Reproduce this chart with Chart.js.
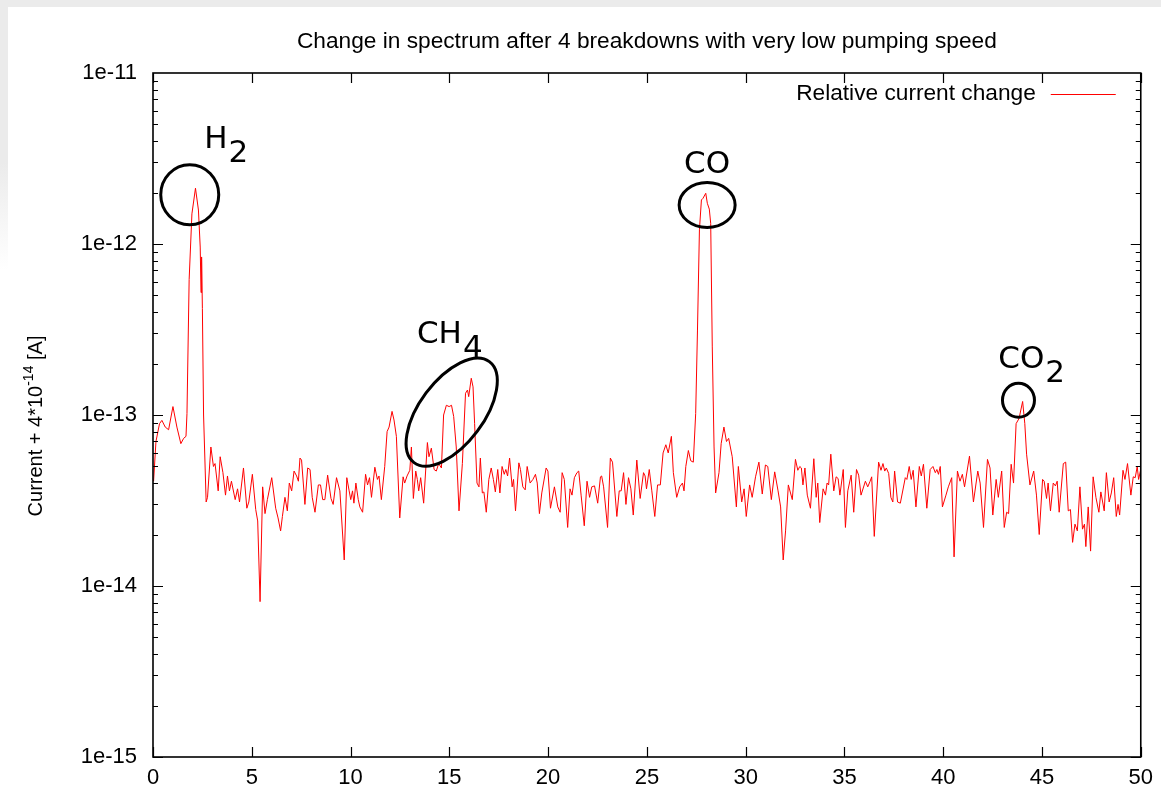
<!DOCTYPE html>
<html lang="en">
<head>
    <meta charset="UTF-8">
    <title>Change in spectrum after 4 breakdowns</title>
    <script src="https://cdn.jsdelivr.net/npm/chart.js"></script>
    <style>
        html, body {
            margin: 0;
            padding: 0;
            background: #fff;
        }
        body {
            width: 1161px;
            height: 793px;
            position: relative;
            overflow: hidden;
        }
        .frame-top {
            position: absolute; left: 0; top: 0;
            width: 100%; height: 7px;
            background: #ebebeb;
        }
        .frame-left {
            position: absolute; left: 0; top: 0;
            width: 8px; height: 270px;
            background: linear-gradient(#ebebeb 60%, #fff);
        }
        canvas {
            position: absolute; left: 0; top: 0;
        }
    </style>
</head>
<body>
    <div class="frame-top"></div>
    <div class="frame-left"></div>
    <canvas id="spectrumChart" width="1161" height="793"></canvas>

    <script>
        // mass number (amu) and relative current change [A]
        const massNumbers = [
            0.03, 0.15, 0.33, 0.45, 0.62, 0.79, 1.01, 1.21, 1.41, 1.55, 1.67, 1.72, 1.83, 1.97, 2.15, 2.30, 2.39, 2.43, 2.46, 2.50,
            2.56, 2.69, 2.76, 2.93, 3.06, 3.14, 3.30, 3.40, 3.54, 3.67, 3.77, 3.87, 3.97, 4.16, 4.28, 4.38, 4.58, 4.75, 4.85, 5.03,
            5.20, 5.30, 5.42, 5.55, 5.67, 5.79, 6.01, 6.21, 6.33, 6.46, 6.55, 6.68, 6.80, 6.90, 7.02, 7.14, 7.27, 7.36, 7.44, 7.52,
            7.69, 7.83, 7.95, 8.06, 8.20, 8.37, 8.48, 8.59, 8.70, 8.84, 9.01, 9.12, 9.29, 9.46, 9.68, 9.81, 9.93, 10.01, 10.10, 10.17,
            10.27, 10.39, 10.47, 10.61, 10.76, 10.86, 10.96, 11.06, 11.23, 11.36, 11.44, 11.56, 11.73, 11.85, 11.95, 12.10, 12.20, 12.32, 12.49, 12.66,
            12.74, 12.86, 13.00, 13.08, 13.18, 13.30, 13.38, 13.45, 13.55, 13.70, 13.89, 13.97, 14.09, 14.23, 14.34, 14.46, 14.60, 14.71, 14.85, 14.99,
            15.11, 15.22, 15.35, 15.49, 15.66, 15.82, 15.92, 15.98, 16.11, 16.20, 16.28, 16.40, 16.50, 16.57, 16.67, 16.75, 16.87, 17.00, 17.12, 17.23,
            17.33, 17.45, 17.56, 17.67, 17.78, 17.86, 17.95, 18.05, 18.18, 18.25, 18.35, 18.52, 18.60, 18.72, 18.84, 18.94, 19.09, 19.23, 19.36, 19.45,
            19.56, 19.68, 19.90, 19.99, 20.12, 20.32, 20.49, 20.61, 20.71, 20.82, 20.99, 21.11, 21.21, 21.33, 21.46, 21.55, 21.67, 21.83, 21.97, 22.10,
            22.21, 22.35, 22.51, 22.65, 22.71, 22.81, 23.01, 23.15, 23.26, 23.48, 23.60, 23.70, 23.82, 23.94, 24.07, 24.19, 24.31, 24.49, 24.66, 24.83,
            24.91, 24.98, 25.12, 25.25, 25.40, 25.54, 25.68, 25.82, 25.96, 26.08, 26.24, 26.34, 26.51, 26.66, 26.80, 26.88, 26.97, 27.10, 27.22, 27.35,
            27.47, 27.56, 27.66, 27.76, 27.84, 27.98, 28.06, 28.16, 28.23, 28.31, 28.40, 28.48, 28.65, 28.76, 28.90, 29.03, 29.14, 29.32, 29.53, 29.63,
            29.80, 29.92, 30.03, 30.20, 30.33, 30.50, 30.67, 30.84, 31.00, 31.12, 31.30, 31.47, 31.64, 31.77, 31.90, 32.02, 32.16, 32.36, 32.52, 32.64,
            32.74, 32.82, 32.90, 33.00, 33.12, 33.28, 33.45, 33.57, 33.65, 33.75, 33.92, 34.04, 34.12, 34.20, 34.31, 34.46, 34.58, 34.68, 34.77, 34.94,
            35.05, 35.17, 35.34, 35.47, 35.61, 35.72, 35.84, 36.06, 36.18, 36.30, 36.38, 36.51, 36.73, 36.85, 36.95, 37.04, 37.12, 37.24, 37.35, 37.45,
            37.54, 37.69, 37.83, 38.08, 38.16, 38.28, 38.38, 38.48, 38.62, 38.79, 38.89, 39.00, 39.17, 39.34, 39.48, 39.60, 39.68, 39.76, 39.85, 39.96,
            40.14, 40.26, 40.43, 40.55, 40.72, 40.85, 40.97, 41.08, 41.33, 41.53, 41.75, 41.87, 42.04, 42.24, 42.37, 42.51, 42.68, 42.79, 42.96, 43.09,
            43.21, 43.31, 43.44, 43.56, 43.69, 43.84, 44.02, 44.13, 44.22, 44.39, 44.58, 44.72, 44.86, 45.03, 45.11, 45.23, 45.31, 45.43, 45.57, 45.68,
            45.77, 45.87, 46.08, 46.20, 46.33, 46.44, 46.55, 46.67, 46.79, 46.92, 47.05, 47.15, 47.22, 47.34, 47.46, 47.59, 47.73, 47.88, 47.98, 48.15,
            48.26, 48.40, 48.51, 48.63, 48.76, 48.85, 48.93, 49.10, 49.20, 49.33, 49.50, 49.62, 49.72, 49.82, 49.89, 50.00
        ];

        const currentChange = [
            4.1e-14, 7.0e-14, 8.9e-14, 9.3e-14, 8.5e-14, 8.2e-14, 1.12e-13, 8.5e-14, 6.8e-14, 7.3e-14, 7.5e-14, 1.02e-13, 6.2e-13, 1.5e-12, 2.12e-12, 1.58e-12, 9.6e-13, 5.2e-13, 8.4e-13, 4.2e-13,
            1.0e-13, 3.1e-14, 3.3e-14, 6.5e-14, 5.0e-14, 5.2e-14, 3.6e-14, 5.7e-14, 4.6e-14, 3.4e-14, 4.4e-14, 3.6e-14, 4.1e-14, 3.2e-14, 3.7e-14, 3.1e-14, 4.9e-14, 2.85e-14, 3.1e-14, 4.5e-14,
            2.8e-14, 2.4e-14, 8.1e-15, 3.8e-14, 2.65e-14, 3.2e-14, 4.3e-14, 2.85e-14, 2.5e-14, 2.1e-14, 2.55e-14, 3.3e-14, 2.75e-14, 4.0e-14, 3.6e-14, 4.7e-14, 4.4e-14, 4.1e-14, 5.6e-14, 5.45e-14,
            3.0e-14, 4.9e-14, 4.8e-14, 3.3e-14, 2.7e-14, 3.9e-14, 3.9e-14, 3.2e-14, 3.2e-14, 4.45e-14, 3.25e-14, 3.0e-14, 4.3e-14, 3.6e-14, 1.42e-14, 4.3e-14, 3.6e-14, 3.2e-14, 3.6e-14, 3.05e-14,
            4.0e-14, 3.2e-14, 2.9e-14, 2.7e-14, 4.5e-14, 3.9e-14, 4.3e-14, 3.3e-14, 4.95e-14, 4.2e-14, 4.4e-14, 3.2e-14, 5.0e-14, 8.0e-14, 8.5e-14, 1.05e-13, 9.35e-14, 7.5e-14, 2.5e-14, 4.35e-14,
            4.0e-14, 4.4e-14, 4.75e-14, 6.5e-14, 3.25e-14, 4.7e-14, 4.2e-14, 3.6e-14, 4.3e-14, 3.05e-14, 6.9e-14, 5.7e-14, 6.4e-14, 4.8e-14, 4.7e-14, 5.2e-14, 4.9e-14, 1.0e-13, 1.14e-13, 1.12e-13,
            1.14e-13, 9.8e-14, 6.5e-14, 2.75e-14, 5.2e-14, 1.34e-13, 1.40e-13, 1.28e-13, 1.64e-13, 1.46e-13, 8.9e-14, 4.0e-14, 3.8e-14, 5.6e-14, 3.5e-14, 3.55e-14, 2.7e-14, 4.2e-14, 4.9e-14, 4.2e-14,
            3.55e-14, 4.8e-14, 3.5e-14, 5.0e-14, 4.5e-14, 4.8e-14, 4.4e-14, 5.6e-14, 3.8e-14, 4.2e-14, 2.75e-14, 5.25e-14, 4.8e-14, 3.8e-14, 3.65e-14, 5.0e-14, 4.0e-14, 4.2e-14, 4.5e-14, 4.0e-14,
            2.65e-14, 3.5e-14, 4.9e-14, 4.7e-14, 2.85e-14, 3.8e-14, 2.9e-14, 2.7e-14, 4.6e-14, 4.2e-14, 2.2e-14, 3.7e-14, 3.4e-14, 4.3e-14, 4.6e-14, 4.7e-14, 3.4e-14, 2.25e-14, 4.1e-14, 3.3e-14,
            3.8e-14, 3.85e-14, 3.05e-14, 4.35e-14, 4.4e-14, 3.8e-14, 2.2e-14, 5.6e-14, 5.3e-14, 2.55e-14, 3.6e-14, 3.6e-14, 4.6e-14, 3.0e-14, 4.3e-14, 3.7e-14, 2.6e-14, 5.45e-14, 3.25e-14, 4.6e-14,
            4.4e-14, 3.7e-14, 4.8e-14, 3.6e-14, 2.55e-14, 3.9e-14, 3.9e-14, 6.0e-14, 6.7e-14, 6.0e-14, 7.5e-14, 4.6e-14, 3.3e-14, 3.8e-14, 4.0e-14, 3.6e-14, 5.0e-14, 6.2e-14, 5.4e-14, 5.3e-14,
            1.02e-13, 3.1e-13, 1.21e-12, 1.81e-12, 1.85e-12, 1.98e-12, 1.73e-12, 1.6e-12, 1.32e-12, 2.5e-13, 6.5e-14, 3.5e-14, 4.6e-14, 6.8e-14, 8.5e-14, 7.0e-14, 7.3e-14, 5.7e-14, 2.9e-14, 5.0e-14,
            3.1e-14, 3.7e-14, 2.55e-14, 3.9e-14, 3.3e-14, 4.35e-14, 5.3e-14, 3.45e-14, 5.1e-14, 5.0e-14, 3.2e-14, 4.65e-14, 3.6e-14, 2.9e-14, 1.42e-14, 2.1e-14, 3.9e-14, 3.2e-14, 5.5e-14, 4.75e-14,
            5.0e-14, 4.9e-14, 3.9e-14, 4.9e-14, 3.4e-14, 2.85e-14, 5.55e-14, 3.3e-14, 4.0e-14, 2.35e-14, 3.7e-14, 3.4e-14, 4.0e-14, 3.9e-14, 5.9e-14, 3.6e-14, 4.35e-14, 4.25e-14, 3.4e-14, 4.8e-14,
            2.2e-14, 3.6e-14, 4.45e-14, 2.7e-14, 4.8e-14, 4.45e-14, 3.4e-14, 4.1e-14, 3.8e-14, 4.1e-14, 4.35e-14, 1.95e-14, 5.3e-14, 4.75e-14, 5.2e-14, 4.7e-14, 4.9e-14, 4.55e-14, 3.3e-14, 3.1e-14,
            4.7e-14, 3.1e-14, 3.05e-14, 4.3e-14, 4.2e-14, 5.0e-14, 4.2e-14, 4.75e-14, 2.9e-14, 5.0e-14, 4.4e-14, 5.15e-14, 2.85e-14, 4.8e-14, 5.0e-14, 4.6e-14, 4.8e-14, 4.5e-14, 5.0e-14, 2.9e-14,
            3.4e-14, 3.8e-14, 4.3e-14, 1.48e-14, 4.7e-14, 4.1e-14, 4.5e-14, 3.8e-14, 5.75e-14, 3.1e-14, 4.7e-14, 4.0e-14, 2.2e-14, 5.5e-14, 4.9e-14, 2.6e-14, 4.2e-14, 3.3e-14, 4.7e-14, 2.2e-14,
            2.7e-14, 2.65e-14, 5.15e-14, 4.0e-14, 8.9e-14, 9.55e-14, 1.2e-13, 8.9e-14, 5.9e-14, 3.9e-14, 4.7e-14, 3.4e-14, 2.0e-14, 4.2e-14, 4.1e-14, 3.25e-14, 4.0e-14, 2.75e-14, 4.0e-14, 3.85e-14,
            4.1e-14, 2.7e-14, 5.2e-14, 5.3e-14, 2.75e-14, 2.8e-14, 1.8e-14, 2.3e-14, 2.1e-14, 3.8e-14, 2.15e-14, 2.3e-14, 1.7e-14, 2.9e-14, 1.6e-14, 4.35e-14, 3.3e-14, 2.7e-14, 3.55e-14, 2.75e-14,
            4.6e-14, 3.1e-14, 3.5e-14, 4.3e-14, 2.55e-14, 3.0e-14, 2.6e-14, 4.75e-14, 4.2e-14, 5.2e-14, 3.4e-14, 4.35e-14, 4.3e-14, 5.0e-14, 4.2e-14, 4.8e-14
        ];

        const yTickValues = [1e-15, 1e-14, 1e-13, 1e-12, 1e-11];
        const xTickStep = 5;

        // hand-written gas names next to the peaks (x in amu, y in A)
        const peakLabels = [
            { name: 'H', sub: '2', x: 2.59, y: 3.64e-12 },
            { name: 'CH', sub: '4', x: 13.36, y: 2.64e-13 },
            { name: 'CO', sub: '', x: 26.88, y: 2.6e-12 },
            { name: 'CO', sub: '2', x: 42.79, y: 1.88e-13 }
        ];

        // rings drawn round the peaks
        const peakRings = [
            { x: 1.86, y: 1.94e-12, rx: 29, ry: 30, rot: 0 },
            { x: 15.12, y: 1.04e-13, rx: 63, ry: 32, rot: -0.93 },
            { x: 28.05, y: 1.69e-12, rx: 28, ry: 22.5, rot: 0 },
            { x: 43.81, y: 1.22e-13, rx: 16, ry: 17, rot: 0 }
        ];

        const titleText = 'Change in spectrum after 4 breakdowns with very low pumping speed';
        const legendText = 'Relative current change';
        const textFont = '"Liberation Sans", Arial, sans-serif';

        const gnuplotFrame = {
            id: 'gnuplotFrame',
            afterDatasetsDraw(chart) {
                const { ctx, chartArea: a, scales: { x, y } } = chart;
                ctx.save();

                // ticks on all four sides
                ctx.strokeStyle = '#000';
                ctx.lineWidth = 1.2;
                ctx.beginPath();
                for (let v = x.min; v <= x.max; v += xTickStep) {
                    const px = Math.round(x.getPixelForValue(v)) + 0.5;
                    ctx.moveTo(px, a.bottom); ctx.lineTo(px, a.bottom - 10);
                    ctx.moveTo(px, a.top); ctx.lineTo(px, a.top + 10);
                }
                for (let d = -15; d < -11; d++) {
                    for (let m = 1; m <= 9; m++) {
                        const py = Math.round(y.getPixelForValue(m * Math.pow(10, d))) + 0.5;
                        const len = m === 1 ? 10 : 5;
                        ctx.moveTo(a.left, py); ctx.lineTo(a.left + len, py);
                        ctx.moveTo(a.right, py); ctx.lineTo(a.right - len, py);
                    }
                }
                ctx.stroke();

                ctx.lineWidth = 1.6;
                ctx.strokeRect(a.left, a.top, a.right - a.left, a.bottom - a.top);

                // title
                ctx.fillStyle = '#000';
                ctx.font = '22.7px ' + textFont;
                ctx.textAlign = 'center';
                ctx.textBaseline = 'middle';
                ctx.fillText(titleText, (a.left + a.right) / 2, a.top - 31);

                // legend: text then line sample
                ctx.textAlign = 'right';
                ctx.fillText(legendText, a.right - 105, a.top + 21);
                ctx.strokeStyle = '#ff0000';
                ctx.lineWidth = 1;
                ctx.beginPath();
                ctx.moveTo(a.right - 90, a.top + 21.5);
                ctx.lineTo(a.right - 25, a.top + 21.5);
                ctx.stroke();

                // y axis title with superscript exponent
                ctx.save();
                ctx.translate(35, (a.top + a.bottom) / 2 + 11);
                ctx.rotate(-Math.PI / 2);
                const partA = 'Current + 4*10';
                const partB = '-14';
                const partC = ' [A]';
                ctx.font = '20px ' + textFont;
                const wA = ctx.measureText(partA).width;
                const wC = ctx.measureText(partC).width;
                ctx.font = '14px ' + textFont;
                const wB = ctx.measureText(partB).width;
                let cx = -(wA + wB + wC) / 2;
                ctx.textAlign = 'left';
                ctx.textBaseline = 'alphabetic';
                ctx.font = '20px ' + textFont;
                ctx.fillText(partA, cx, 7);
                cx += wA;
                ctx.font = '14px ' + textFont;
                ctx.fillText(partB, cx, -2);
                cx += wB;
                ctx.font = '20px ' + textFont;
                ctx.fillText(partC, cx, 7);
                ctx.restore();

                // gas labels and rings
                ctx.font = '31px "DejaVu Sans", sans-serif';
                ctx.textAlign = 'left';
                ctx.textBaseline = 'alphabetic';
                peakLabels.forEach(l => {
                    const px = x.getPixelForValue(l.x);
                    const py = y.getPixelForValue(l.y);
                    ctx.fillText(l.name, px, py);
                    if (l.sub) {
                        ctx.fillText(l.sub, px + ctx.measureText(l.name).width + 1, py + 14);
                    }
                });
                ctx.strokeStyle = '#000';
                ctx.lineWidth = 3;
                peakRings.forEach(r => {
                    ctx.beginPath();
                    ctx.ellipse(x.getPixelForValue(r.x), y.getPixelForValue(r.y), r.rx, r.ry, r.rot, 0, Math.PI * 2);
                    ctx.stroke();
                });

                ctx.restore();
            }
        };

        new Chart(document.getElementById('spectrumChart'), {
            type: 'line',
            data: {
                datasets: [{
                    label: legendText,
                    data: massNumbers.map((m, i) => ({ x: m, y: currentChange[i] })),
                    borderColor: '#ff0000',
                    borderWidth: 1,
                    pointRadius: 0,
                    tension: 0,
                    fill: false
                }]
            },
            options: {
                responsive: false,
                animation: false,
                layout: { padding: { left: 0, right: 20, top: 73, bottom: 0 } },
                plugins: {
                    legend: { display: false },
                    tooltip: { enabled: false },
                    title: { display: false }
                },
                scales: {
                    x: {
                        type: 'linear',
                        min: 0,
                        max: 50,
                        grid: { display: false, drawTicks: false },
                        border: { display: false },
                        ticks: {
                            stepSize: xTickStep,
                            color: '#000',
                            padding: 8,
                            maxRotation: 0,
                            font: { family: textFont, size: 22 }
                        },
                        afterFit(scale) { scale.height = 36; }
                    },
                    y: {
                        type: 'logarithmic',
                        min: 1e-15,
                        max: 1e-11,
                        grid: { display: false, drawTicks: false },
                        border: { display: false },
                        afterBuildTicks(scale) {
                            scale.ticks = yTickValues.map(v => ({ value: v }));
                        },
                        ticks: {
                            color: '#000',
                            padding: 16,
                            font: { family: textFont, size: 22 },
                            callback: v => '1e' + Math.round(Math.log10(v))
                        },
                        afterFit(scale) { scale.width = 153; }
                    }
                }
            },
            plugins: [gnuplotFrame]
        });
    </script>
</body>
</html>
